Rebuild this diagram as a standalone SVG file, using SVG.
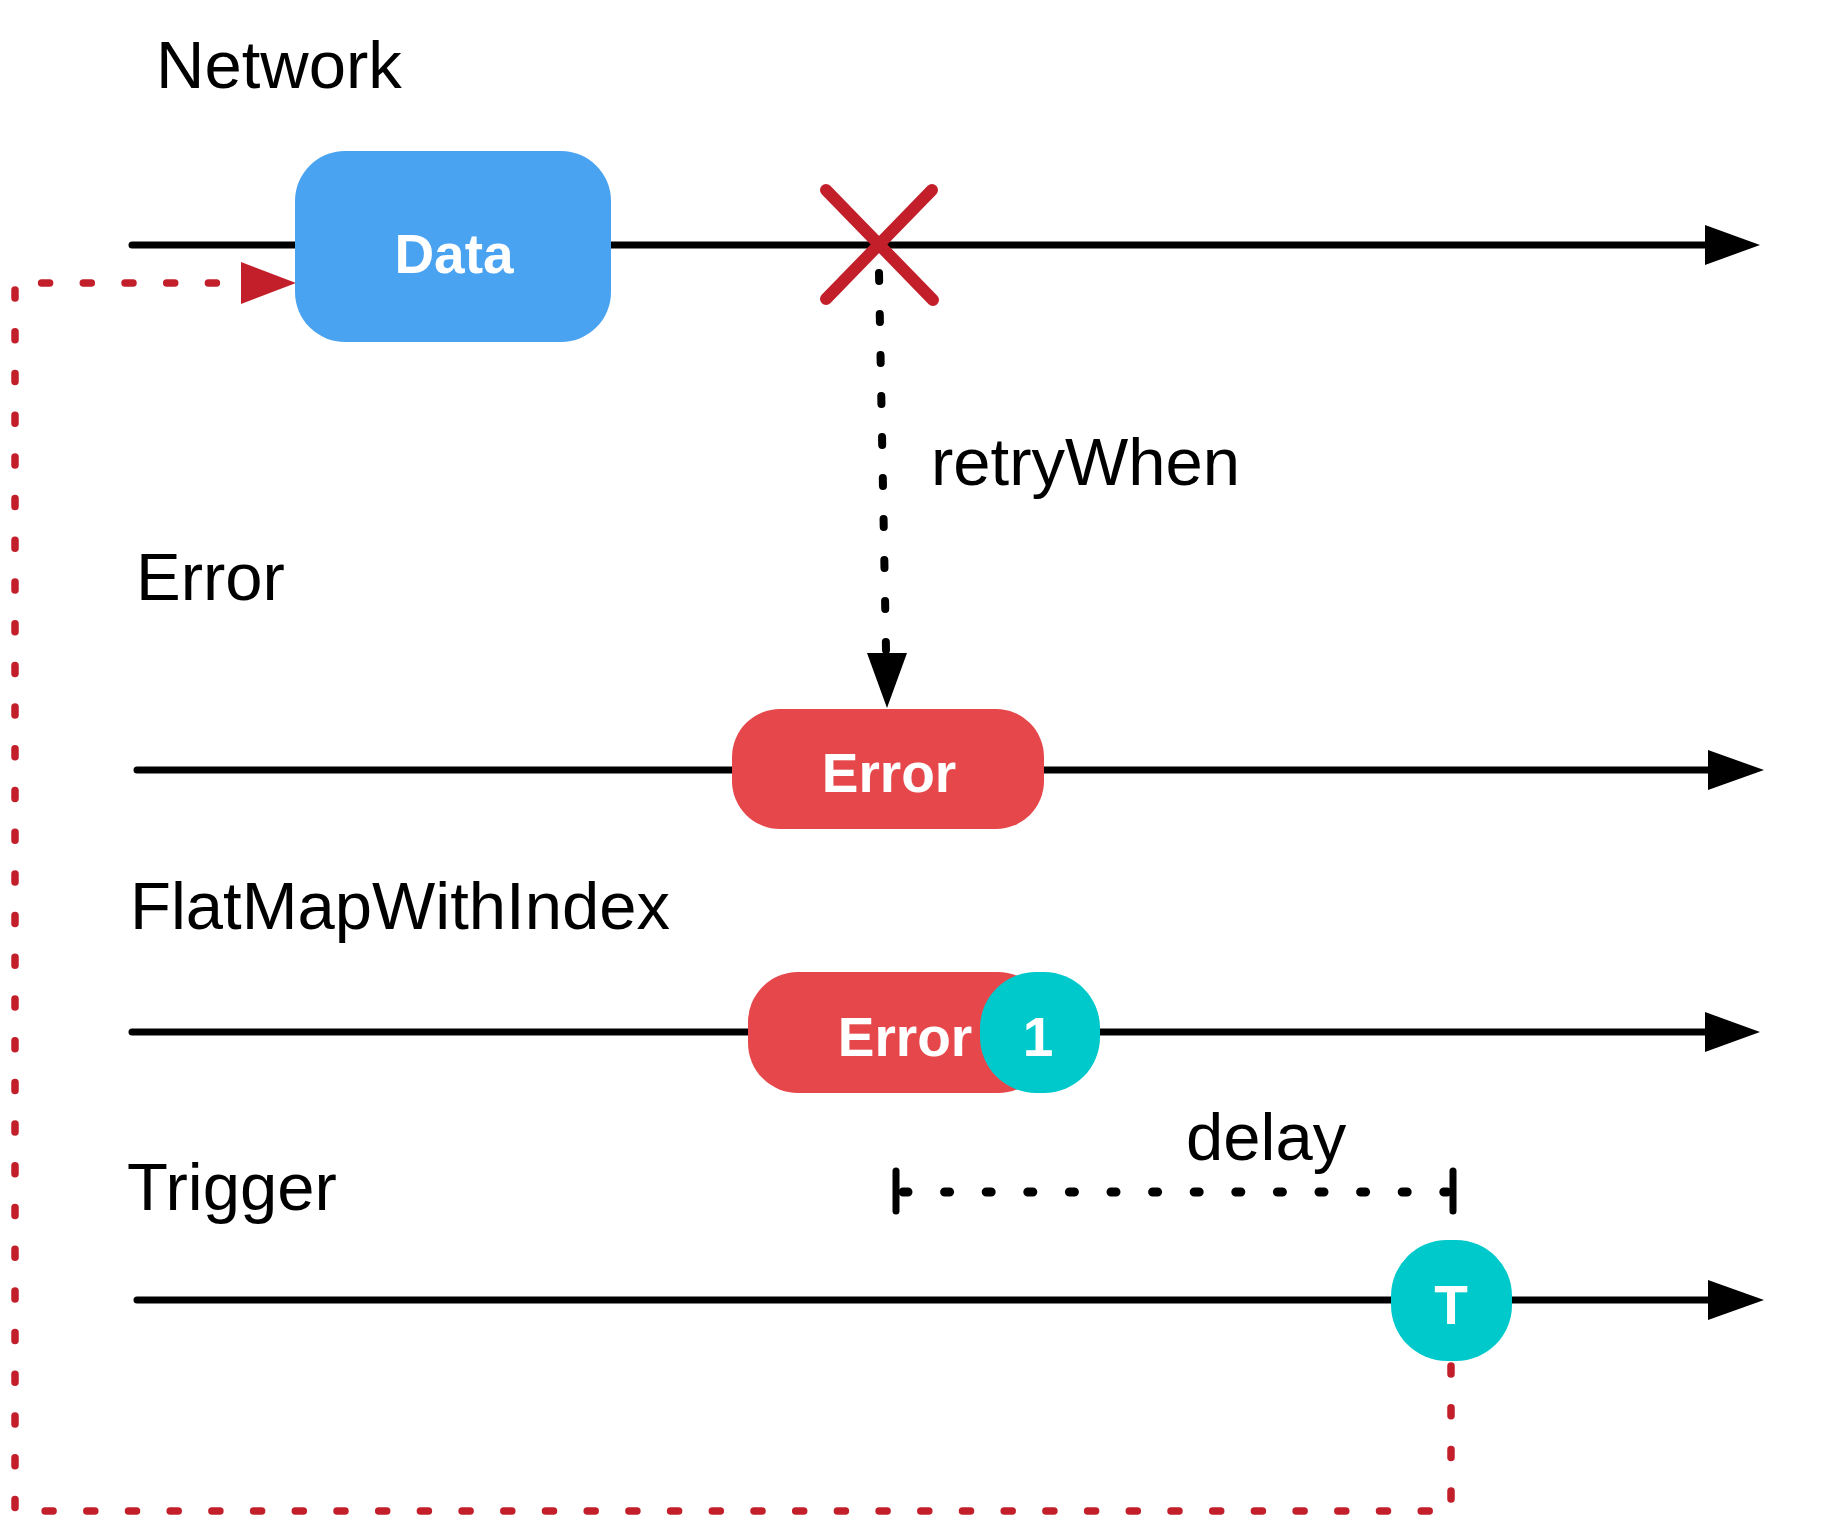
<svg xmlns="http://www.w3.org/2000/svg" width="1837" height="1524" viewBox="0 0 1837 1524">
<style>
.lbl{font-family:"Liberation Sans",Arial,sans-serif;font-size:67px;fill:#000}
.in{font-family:"Liberation Sans",Arial,sans-serif;font-size:55px;font-weight:bold;fill:#fff;text-anchor:middle}
.tl{stroke:#000;stroke-width:7;stroke-linecap:round;fill:none}
.dot{stroke:#000;stroke-width:8;stroke-linecap:round;stroke-dasharray:8 33;fill:none}
.ddot{stroke:#000;stroke-width:9;stroke-linecap:round;stroke-dasharray:5 36.6;fill:none}
.rdot{stroke:#C21F2A;stroke-width:7.5;stroke-linecap:round;stroke-dasharray:8 33.7;fill:none}
</style>
<rect width="1837" height="1524" fill="#fff"/>
<g id="labels">
<text class="lbl" x="156" y="88">Network</text>
<text class="lbl" x="136" y="600">Error</text>
<text class="lbl" x="130" y="929">FlatMapWithIndex</text>
<text class="lbl" x="127" y="1210">Trigger</text>
<text class="lbl" x="931" y="485">retryWhen</text>
<text class="lbl" x="1186" y="1160">delay</text>
</g>
<g id="connectors">
<line class="tl" x1="132" y1="245" x2="1705" y2="245"/>
<path d="M1705 225 L1760 245 L1705 265 Z"/>
<line class="tl" x1="137" y1="770" x2="1708" y2="770"/>
<path d="M1708 750 L1764 770 L1708 790 Z"/>
<line class="tl" x1="132" y1="1032" x2="1705" y2="1032"/>
<path d="M1705 1012 L1760 1032 L1705 1052 Z"/>
<line class="tl" x1="137" y1="1300" x2="1708" y2="1300"/>
<path d="M1708 1280 L1764 1300 L1708 1320 Z"/>
<path class="dot" d="M879 273 L886 650"/>
<path d="M867 653 L907 653 L887 708 Z"/>
<path class="ddot" d="M903 1192 L1447 1192"/>
<line class="tl" x1="896" y1="1171" x2="896" y2="1211" stroke-linecap="butt"/>
<line class="tl" x1="1453" y1="1171" x2="1453" y2="1211" stroke-linecap="butt"/>
<path class="rdot" d="M1451 1366 V1511 H15 V283 H236"/>
<path d="M241 262 L296 283 L241 304 Z" fill="#C21F2A"/>
</g>
<g id="node-data">
<rect x="295" y="151" width="316" height="191" rx="50" fill="#4AA3F0"/>
<text class="in" x="454" y="273">Data</text>
</g>
<g id="node-x">
<line x1="826" y1="190" x2="933" y2="300" stroke="#C21F2A" stroke-width="12" stroke-linecap="round"/>
<line x1="932" y1="190" x2="826" y2="299" stroke="#C21F2A" stroke-width="12" stroke-linecap="round"/>
</g>
<g id="node-error">
<rect x="732" y="709" width="312" height="120" rx="48" fill="#E5474B"/>
<text class="in" x="889" y="792">Error</text>
</g>
<g id="node-error-indexed">
<rect x="748" y="972" width="300" height="121" rx="50" fill="#E5474B"/>
<text class="in" x="905" y="1056">Error</text>
<rect x="980" y="972" width="120" height="121" rx="56" fill="#00C9CC"/>
<text class="in" x="1038" y="1056">1</text>
</g>
<g id="node-trigger">
<rect x="1391" y="1240" width="121" height="121" rx="56" fill="#00C9CC"/>
<text class="in" x="1451" y="1324">T</text>
</g>
</svg>
